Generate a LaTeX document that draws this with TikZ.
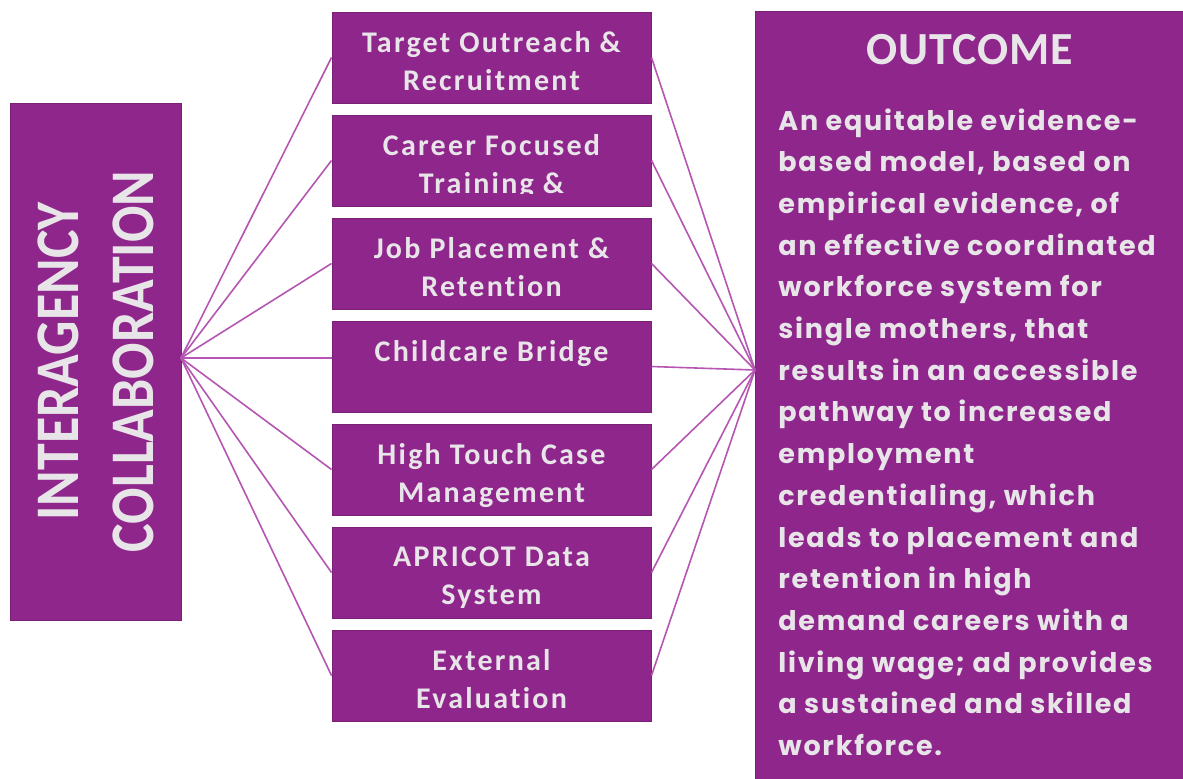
\documentclass[tikz,border=0pt]{standalone}
\usepackage{fontspec}
\setmainfont{Carlito}
\newfontfamily\cardfont{Carlito}[LetterSpace=7.5,Ligatures=NoCommon]
\newfontfamily\headfont{Carlito}[LetterSpace=2]
\newfontfamily\sidefont{Carlito}[FakeStretch=0.87]
\newfontfamily\bodyfont{Poppins}[LetterSpace=6.5]
\usetikzlibrary{positioning}
\definecolor{plum}{RGB}{143,38,139}
\definecolor{wire}{RGB}{180,86,178}
\definecolor{ink}{RGB}{232,229,233}
\tikzstyle{card}=[fill=plum,draw=plum!85!black,line width=.5pt,inner sep=0pt,
  minimum width=159.5pt,minimum height=45.5pt]
\tikzstyle{cardtext}=[text=ink,align=center,inner sep=0pt,
  font=\cardfont\bfseries\fontsize{15}{19}\selectfont]
\tikzstyle{link}=[draw=wire,line width=.8pt]
% #3 = how far the text is cut above the bottom edge
\newcommand{\newCard}[4]{%
  \node[card,#2](#1){};
  \begin{scope}
    \clip (#1.south west) ++(0,-#3) rectangle (#1.north east);
    \node[cardtext,below=10pt of #1.north](#1-txt){#4};
  \end{scope}}
\newcommand{\newLink}[2]{\path[link] (#1) -- (#2);}

\begin{document}
\begin{tikzpicture}[x=0.5pt,y=-0.5pt,node distance=5.5pt]
  \useasboundingbox[fill=white] (0,0) rectangle (1183,778);
  % left block
  \node[card,minimum width=85.5pt,minimum height=258.5pt] (collab) at (95.5,361.5) {};
  \node[text=ink,rotate=90,align=center,inner sep=0pt,
    font=\sidefont\bfseries\fontsize{31}{37.5}\selectfont]
    (collab-txt) at (collab.center) {INTERAGENCY\\COLLABORATION};
  % middle column
  \newCard{outreach}{at={(491.5,57.5)}}{0}{Target Outreach \&\\Recruitment}
  \newCard{training}{below=of outreach}{13}{Career Focused\\Training \&}
  \newCard{placement}{below=of training}{0}{Job Placement \&\\Retention}
  \newCard{bridge}{below=of placement}{0}{Childcare Bridge}
  \newCard{casemgmt}{below=of bridge}{0}{High Touch Case\\Management}
  \newCard{apricot}{below=of casemgmt}{11}{APRICOT Data\\System}
  \newCard{evaluation}{below=of apricot}{0}{External\\Evaluation}
  % right block
  \node[card,anchor=north west,minimum width=216pt,minimum height=390pt]
    (outcome) at (755,11) {};
  \node[text=ink,inner sep=0pt,font=\headfont\bfseries\fontsize{23}{27}\selectfont]
    (outcome-head) at (970,50) {OUTCOME};
  \node[text=ink,anchor=north west,align=left,inner sep=0pt,
    font=\bodyfont\bfseries\fontsize{13.5}{20.85}\selectfont]
    (outcome-txt) at (778,108) {An equitable evidence-\\based model, based on\\
    empirical evidence, of\\an effective coordinated\\workforce system for\\
    single mothers, that\\results in an accessible\\pathway to increased\\
    employment\\credentialing, which\\leads to placement and\\
    retention in high\\demand careers with a\\living wage; ad provides\\
    a sustained and skilled\\workforce.};
  \coordinate (hubL) at (181,358);
  \coordinate (hubR) at (755,370);
  % fan to the left
  \newLink{hubL}{outreach.west}
  \newLink{hubL}{training.west}
  \newLink{hubL}{placement.west}
  \newLink{hubL}{hubL -| bridge.west}
  \newLink{hubL}{casemgmt.west}
  \newLink{hubL}{apricot.west}
  \newLink{hubL}{evaluation.west}
  % fan to the right
  \newLink{outreach.east}{hubR}
  \newLink{training.east}{hubR}
  \newLink{placement.east}{hubR}
  \newLink{bridge.east}{hubR}
  \newLink{casemgmt.east}{hubR}
  \newLink{apricot.east}{hubR}
  \newLink{evaluation.east}{hubR}
\end{tikzpicture}
\end{document}
